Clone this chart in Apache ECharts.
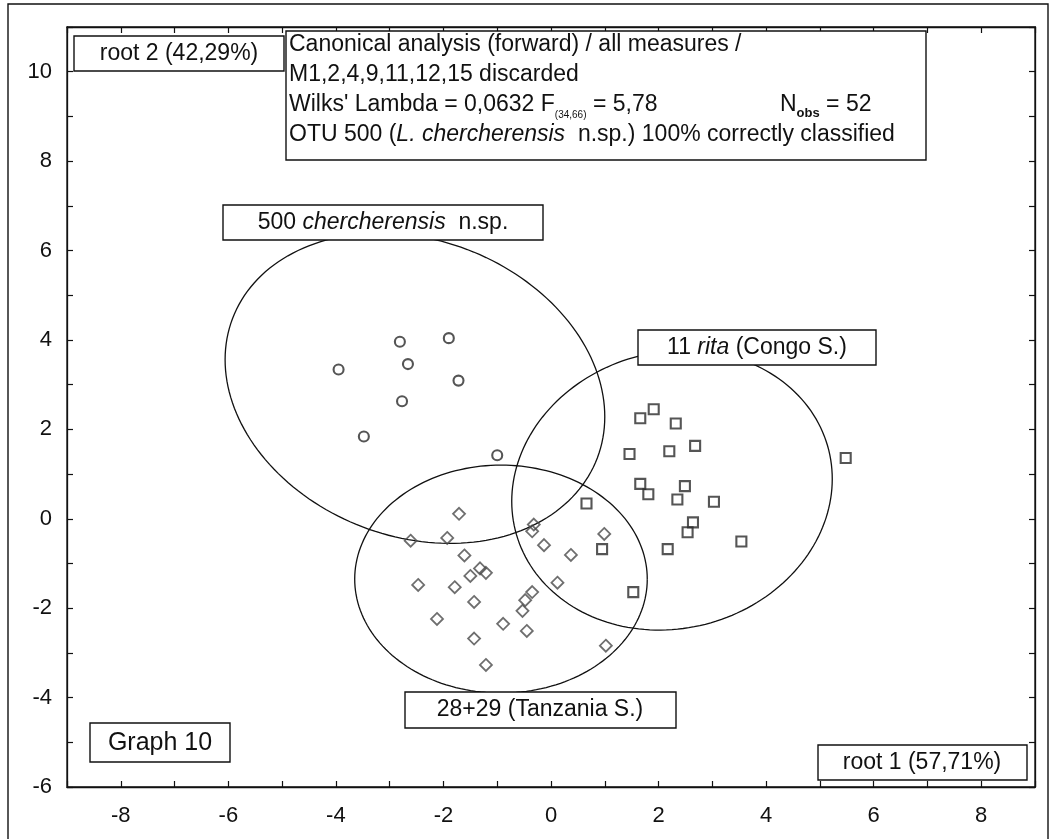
<!DOCTYPE html>
<html>
<head>
<meta charset="utf-8">
<script src="https://cdn.jsdelivr.net/npm/echarts@6/dist/echarts.min.js"></script>
<style>
  html, body { margin: 0; padding: 0; background: #fff; }
  #chart { width: 1055px; height: 839px; }
</style>
</head>
<body>
<div id="chart"></div>
<script>
// Canonical scores (root 1, root 2) for each OTU
const otu500 = [
  [-2.81, 3.96], [-1.90, 4.04], [-2.66, 3.46], [-3.95, 3.34],
  [-1.72, 3.09], [-2.77, 2.63], [-3.48, 1.84], [-1.00, 1.42]
];
const otu2829 = [
  [-1.71, 0.11], [-2.61, -0.49], [-1.93, -0.43], [-0.32, -0.13], [-0.35, -0.28],
  [0.99, -0.34], [-1.61, -0.82], [-0.13, -0.59], [0.37, -0.81], [-1.32, -1.11],
  [-1.21, -1.21], [-1.50, -1.28], [-2.47, -1.48], [-1.79, -1.53], [0.12, -1.43],
  [-0.35, -1.64], [-0.48, -1.82], [-1.43, -1.86], [-0.53, -2.06], [-2.12, -2.24],
  [-0.89, -2.35], [-0.45, -2.51], [-1.43, -2.68], [1.02, -2.84], [-1.21, -3.27]
];
const otu11 = [
  [1.91, 2.45], [1.66, 2.25], [2.32, 2.13], [2.68, 1.63], [2.20, 1.51],
  [1.46, 1.45], [5.48, 1.36], [1.66, 0.78], [1.81, 0.55], [2.49, 0.73],
  [2.35, 0.43], [3.03, 0.38], [0.66, 0.34], [2.64, -0.08], [2.54, -0.30],
  [3.54, -0.51], [0.95, -0.68], [2.17, -0.68], [1.53, -1.64]
];
// Confidence ellipses: [centre root 1, centre root 2, half-width root 1, half-width root 2, correlation]
const ellipses = [
  [-2.53, 2.92, 3.53, 3.47, -0.184],
  [2.25, 0.64, 2.98, 3.13, 0.080],
  [-0.93, -1.35, 2.72, 2.55, 0.0]
];
const xTickLabels = [-8, -6, -4, -2, 0, 2, 4, 6, 8];
const yTickLabels = [-6, -4, -2, 0, 2, 4, 6, 8, 10];

const FONT = 'Liberation Sans, Arial, sans-serif';
const INK = '#111';

const chart = echarts.init(document.getElementById('chart'), null, { renderer: 'canvas' });

function axisCommon(labels, showLabels, margin) {
  return {
    type: 'value',
    interval: 1,
    axisLine: { show: true, onZero: false, lineStyle: { color: INK, width: 1.3 } },
    axisTick: { show: true, inside: true, length: 6, lineStyle: { color: INK, width: 1.2 } },
    splitLine: { show: false },
    axisLabel: {
      show: showLabels,
      fontSize: 22,
      fontFamily: FONT,
      color: INK,
      margin: margin,
      formatter: v => (labels.includes(v) ? String(v) : '')
    }
  };
}

// Ellipse outline traced through the axes from its centre, spreads and correlation
function ellipseItem(params, api) {
  const cx = api.value(0), cy = api.value(1);
  const sx = api.value(2), sy = api.value(3), r = api.value(4);
  const q = Math.sqrt(1 - r * r);
  const pts = [];
  const n = 180;
  for (let k = 0; k <= n; k++) {
    const t = (2 * Math.PI * k) / n;
    const dx = sx * Math.cos(t);
    const dy = sy * (r * Math.cos(t) + q * Math.sin(t));
    pts.push(api.coord([cx + dx, cy + dy]));
  }
  return {
    type: 'polyline',
    shape: { points: pts },
    style: { fill: null, stroke: INK, lineWidth: 1.3 },
    silent: true
  };
}

const markerBase = { color: 'rgba(0,0,0,0)', borderColor: '#2a2a2a', borderWidth: 2.1 };

function box(x, y, w, h) {
  return {
    type: 'rect', z: 100,
    shape: { x: x, y: y, width: w, height: h },
    style: { fill: '#fff', stroke: INK, lineWidth: 1.4 }
  };
}
function label(x, y, text, align, rich, size) {
  return {
    type: 'text', z: 101,
    style: {
      x: x, y: y, text: text,
      fontSize: size || 23, fontFamily: FONT, fill: INK,
      align: align || 'left', verticalAlign: 'middle',
      rich: rich || undefined
    }
  };
}

const subRich = {
  sub: { fontSize: 10, fontFamily: FONT, fill: INK, verticalAlign: 'bottom', lineHeight: 14 },
  subb: { fontSize: 13, fontWeight: 'bold', fontFamily: FONT, fill: INK, verticalAlign: 'bottom', lineHeight: 14 },
  n: { fontSize: 23, fontFamily: FONT, fill: INK, lineHeight: 30 }
};
const italRich = {
  i: { fontSize: 23, fontStyle: 'italic', fontFamily: FONT, fill: INK },
  n: { fontSize: 23, fontFamily: FONT, fill: INK }
};

chart.setOption({
  animation: false,
  backgroundColor: '#fff',
  grid: { left: 67, right: 20, top: 27, bottom: 52, show: true, borderColor: INK, borderWidth: 1.3 },
  xAxis: [
    Object.assign(axisCommon(xTickLabels, true, 18), { min: -9, max: 9, position: 'bottom' }),
    Object.assign(axisCommon(xTickLabels, false, 18), { min: -9, max: 9, position: 'top' })
  ],
  yAxis: [
    Object.assign(axisCommon(yTickLabels, true, 15), { min: -6, max: 11, position: 'left' }),
    Object.assign(axisCommon(yTickLabels, false, 15), { min: -6, max: 11, position: 'right' })
  ],
  series: [
    {
      type: 'custom', name: 'ellipses', renderItem: ellipseItem, data: ellipses,
      xAxisIndex: 0, yAxisIndex: 0, silent: true, z: 2
    },
    {
      type: 'scatter', name: '500 chercherensis n.sp.', data: otu500,
      symbol: 'circle', symbolSize: 10, itemStyle: markerBase, z: 3, silent: true
    },
    {
      type: 'scatter', name: '28+29 (Tanzania S.)', data: otu2829,
      symbol: 'diamond', symbolSize: 12,
      itemStyle: { color: 'rgba(0,0,0,0)', borderColor: '#4a4a4a', borderWidth: 1.8 }, z: 3, silent: true
    },
    {
      type: 'scatter', name: '11 rita (Congo S.)', data: otu11,
      symbol: 'rect', symbolSize: 10, itemStyle: markerBase, z: 3, silent: true
    }
  ],
  graphic: [
    // outer frame
    { type: 'rect', z: 99, shape: { x: 8, y: 4, width: 1040, height: 850 }, style: { fill: null, stroke: INK, lineWidth: 1.4 } },

    box(74, 36, 210, 35),
    label(179, 54, 'root 2 (42,29%)', 'center'),

    box(286, 31, 640, 129),
    label(289, 45, 'Canonical analysis (forward) / all measures /'),
    label(289, 75, 'M1,2,4,9,11,12,15 discarded'),
    label(289, 105, '{n|Wilks\' Lambda = 0,0632 F}{sub|(34,66)}{n| = 5,78}', 'left', subRich),
    label(780, 105, '{n|N}{subb|obs}{n| = 52}', 'left', subRich),
    label(289, 135, '{n|OTU 500 (}{i|L. chercherensis}{n|  n.sp.) 100% correctly classified}', 'left', italRich),

    box(223, 205, 320, 35),
    label(383, 223, '{n|500 }{i|chercherensis}{n|  n.sp.}', 'center', italRich),

    box(638, 330, 238, 35),
    label(757, 348, '{n|11 }{i|rita}{n| (Congo S.)}', 'center', italRich),

    box(405, 692, 271, 36),
    label(540, 710, '28+29 (Tanzania S.)', 'center'),

    box(90, 723, 140, 39),
    label(160, 743, 'Graph 10', 'center', null, 25),

    box(818, 745, 209, 35),
    label(922, 763, 'root 1 (57,71%)', 'center')
  ]
});
</script>
</body>
</html>
